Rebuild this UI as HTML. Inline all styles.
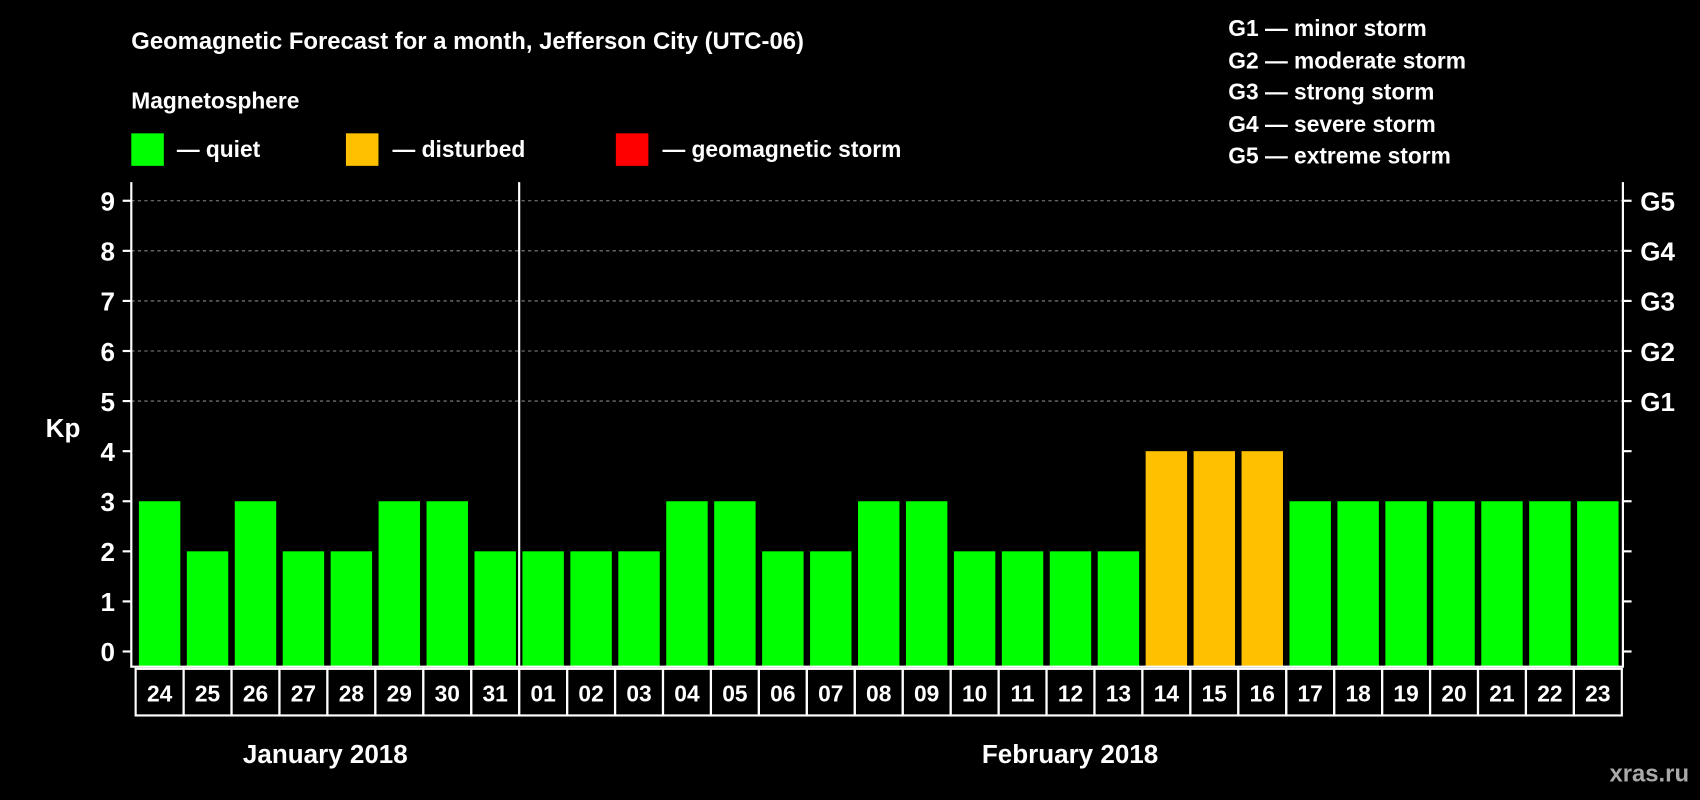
<!DOCTYPE html>
<html><head><meta charset="utf-8"><style>
html,body{margin:0;padding:0;background:#000;}
svg{display:block;}
text{font-family:"Liberation Sans",Arial,sans-serif;font-weight:bold;fill:#fff;}
</style></head><body>
<svg id="chart" width="1700" height="800" viewBox="0 0 1568 738" xmlns="http://www.w3.org/2000/svg">
<rect width="1568" height="738" fill="#000"/>
<text x="121" y="45" font-size="22">Geomagnetic Forecast for a month, Jefferson City (UTC-06)</text>
<text x="121" y="100" font-size="21">Magnetosphere</text>
<g><rect x="121" y="123" width="30" height="30" fill="#00ff00"/><text x="163" y="145" font-size="21">— quiet</text></g>
<g><rect x="319" y="123" width="30" height="30" fill="#ffc000"/><text x="362" y="145" font-size="21">— disturbed</text></g>
<g><rect x="568" y="123" width="30" height="30" fill="#ff0000"/><text x="611" y="145" font-size="21">— geomagnetic storm</text></g>
<g font-size="21">
<text x="1133" y="33">G1 — minor storm</text>
<text x="1133" y="63">G2 — moderate storm</text>
<text x="1133" y="92">G3 — strong storm</text>
<text x="1133" y="122">G4 — severe storm</text>
<text x="1133" y="151">G5 — extreme storm</text>
</g>
<text x="58" y="403" font-size="24" text-anchor="middle">Kp</text>
<text x="300" y="704" font-size="24" text-anchor="middle">January 2018</text>
<text x="987" y="704" font-size="24" text-anchor="middle">February 2018</text>
<text x="1558" y="721" font-size="22" text-anchor="end" style="fill:#aaa">xras.ru</text>
<g id="plot"></g>
</svg>
<script>
const days=["24","25","26","27","28","29","30","31","01","02","03","04","05","06","07","08","09","10","11","12","13","14","15","16","17","18","19","20","21","22","23"];
const kpValues=[3,2,3,2,2,3,3,2,2,2,2,3,3,2,2,3,3,2,2,2,2,4,4,4,3,3,3,3,3,3,3];
const yTicks=[0,1,2,3,4,5,6,7,8,9];
const gLabels=["","","","","","G1","G2","G3","G4","G5"];
const monthBreakIndex=8;
const NS="http://www.w3.org/2000/svg";
const plot=document.getElementById("plot");
const L=121,R=1497,T=168,B=615,cellL=125,cellR=1496;
const y=v=>601-v*46.2;
const cw=(cellR-cellL)/days.length;
const x=i=>cellL+i*cw;
function mk(tag,attrs){const e=document.createElementNS(NS,tag);for(const k in attrs)e.setAttribute(k,attrs[k]);plot.appendChild(e);return e;}
yTicks.forEach((v,i)=>{
 if(v>=5){const g=mk("line",{x1:L,x2:R,y1:y(v),y2:y(v),stroke:"#888","stroke-dasharray":"3,3","stroke-width":1});
 
 }
 const t=mk("line",{x1:L-8,x2:L,y1:y(v),y2:y(v),stroke:"#fff","stroke-width":2});
 
 
 const t2=mk("line",{x1:R,x2:R+8,y1:y(v),y2:y(v),stroke:"#fff","stroke-width":2});
 
 
 const lb=mk("text",{x:106,y:y(v)+9,"font-size":24,"text-anchor":"end"});lb.textContent=v;
 
 
 if(gLabels[i]){const gl=mk("text",{x:1513,y:y(v)+9,"font-size":24});gl.textContent=gLabels[i];
 
 }
});
kpValues.forEach((v,i)=>{
 const col=v>=5?"#ff0000":(v>=4?"#ffc000":"#00ff00");
 const b=mk("rect",{x:x(i)+3,y:y(v),width:cw-6,height:B-y(v),fill:col});
 
 
 const c=mk("rect",{x:x(i),y:617,width:cw,height:43,fill:"none",stroke:"#fff","stroke-width":2});
 
 
 const t=mk("text",{x:x(i)+cw/2,y:647,"font-size":21,"text-anchor":"middle"});t.textContent=days[i];
 
 
});
const ax=mk("path",{d:`M${L},${T}V${B}H${R}V${T}`,fill:"none",stroke:"#fff","stroke-width":2});


const d=mk("line",{x1:x(monthBreakIndex),x2:x(monthBreakIndex),y1:T,y2:B,stroke:"#fff","stroke-width":2});


</script>
</body></html>
